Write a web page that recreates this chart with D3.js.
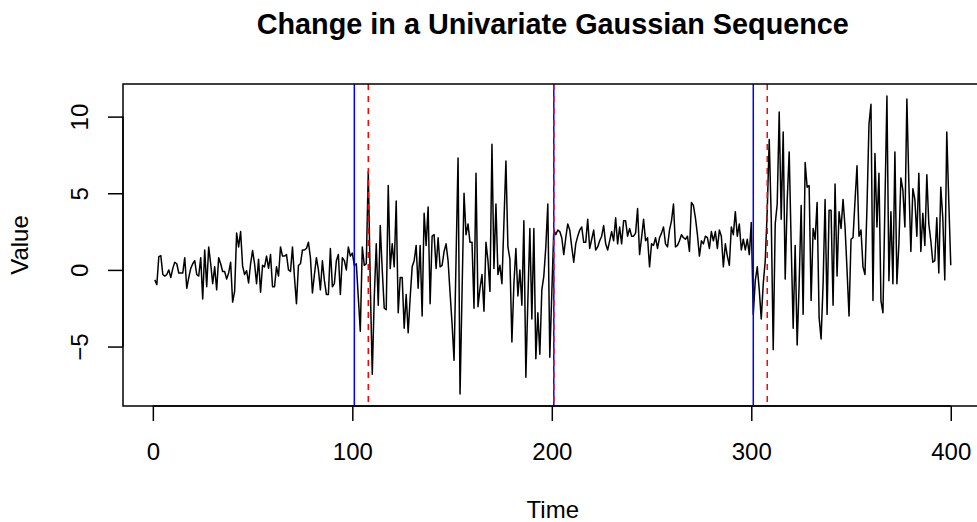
<!DOCTYPE html>
<html>
<head>
<meta charset="utf-8">
<script src="https://cdn.jsdelivr.net/npm/d3@7"></script>
<style>
  html, body { margin: 0; padding: 0; background: #ffffff; }
  svg { display: block; }
  text { font-family: "Liberation Sans", Arial, Helvetica, sans-serif; fill: #000; }
</style>
</head>
<body>
<svg id="chart" width="977" height="522"></svg>
<script>
// ---- data ----
const seriesValues = [
  -0.65,-0.96,0.87,0.93,-0.3,-0.4,-0.3,0.0,-0.5,0.1,
  0.5,0.4,-0.2,-0.2,-0.2,0.8,-1.2,-0.5,0.1,0.4,
  0.6,-0.3,-0.4,0.8,-1.9,1.3,-1.1,1.5,0.4,-0.9,
  0.2,-1.3,0.8,0.4,-0.1,-0.1,-0.6,-0.2,0.5,-2.1,
  -1.4,2.4,1.5,2.5,0.25,-0.3,-0.05,-0.85,0.4,1.26,
  0.4,-0.9,0.7,-1.46,0.3,0.2,0.9,0.1,1.0,-1.1,
  -1.1,0.2,-0.4,1.5,0.9,0.9,1.0,0.0,-0.1,1.5,
  -0.5,-2.2,0.3,0.4,1.3,1.3,1.4,1.8,0.8,-1.5,
  -0.3,0.8,0.0,-1.3,0.6,-0.7,-1.6,-1.6,1.4,-1.1,
  -0.9,0.6,1.0,-1.6,0.8,0.6,0.0,1.5,0.9,1.1,
  0.3,0.4,-1.8,-4.0,1.5,0.3,0.4,6.4,-0.9,-6.8,
  -1.8,1.7,-2.3,2.9,0.0,-2.5,-2.6,5.5,0.1,1.7,
  0.2,4.5,-2.8,-0.5,-0.5,-3.8,-1.6,-4.1,-1.8,0.2,
  0.6,1.6,-1.2,1.6,-3.0,3.7,1.6,4.1,-2.2,2.2,
  2.3,0.1,2.1,0.2,0.3,1.2,1.7,0.6,-1.5,-3.5,
  -5.9,0.7,7.3,-8.1,-1.5,5.0,2.3,3.0,1.8,1.8,
  -2.5,6.3,-2.4,-1.2,-0.3,-2.7,1.8,0.6,-1.4,8.2,
  0.1,4.3,-0.3,0.3,-0.9,3.1,7.1,1.5,0.7,-4.7,
  -0.9,1.4,-1.7,0.0,-2.3,3.2,-7.0,-2.0,2.7,-3.2,
  2.7,-5.8,-2.8,-5.5,-1.3,-0.4,1.5,4.3,-5.7,-1.5,
  2.6,2.3,2.6,2.5,2.1,1.0,2.1,3.0,2.6,1.5,
  0.5,1.7,2.2,2.6,2.8,1.8,1.8,3.3,1.4,2.0,
  2.6,1.3,1.5,1.9,2.2,2.9,1.7,1.3,1.9,2.5,
  1.9,3.4,1.7,2.8,1.7,3.2,3.2,2.2,2.7,2.2,
  2.2,2.4,4.0,1.0,2.1,3.3,1.9,2.1,0.2,1.7,
  1.6,2.1,1.4,2.1,2.4,2.8,1.7,1.5,2.6,3.2,
  4.3,1.5,1.6,1.9,2.3,2.1,2.0,2.2,1.2,4.4,
  4.2,3.4,2.3,0.9,1.9,1.7,2.2,2.1,1.4,2.5,
  1.9,2.5,1.4,2.6,2.2,0.2,1.7,0.9,0.3,2.8,
  2.3,3.8,2.2,3.0,1.3,2.0,1.3,2.0,1.0,3.1,
  -2.9,-0.7,0.2,-1.3,-3.2,-0.9,0.6,3.9,8.5,3.4,
  -5.2,3.0,4.3,10.3,3.3,9.0,-0.6,4.5,7.7,1.7,
  -3.8,1.6,-4.9,-0.9,4.2,-2.9,7.0,5.4,5.5,-2.0,
  2.7,2.0,4.4,-3.1,-4.5,-0.9,4.6,-2.9,3.9,3.9,
  -2.3,5.6,-0.4,3.8,2.7,4.6,2.8,0.0,-3.0,2.0,
  2.1,4.5,6.8,2.2,2.6,0.2,-0.3,4.1,9.5,10.8,
  -2.0,7.6,2.8,6.3,-2.0,-2.8,4.3,11.35,-0.7,3.8,
  -0.9,7.7,-0.9,1.7,6.0,5.2,2.8,11.15,5.6,1.2,
  5.3,4.6,2.2,6.3,1.2,3.7,1.6,6.2,3.0,1.9,
  0.5,0.6,3.4,-0.2,5.4,3.4,-0.65,9.0,4.5,0.3
];
const timeIndex = seriesValues.map((_, i) => i + 1);
const trueChangePoints = [101, 201, 301];
const estimatedChangePoints = [108, 201, 308];
const xTickValues = [0, 100, 200, 300, 400];
const yTickValues = [-5, 0, 5, 10];
const titleText = "Change in a Univariate Gaussian Sequence";
const xLabelText = "Time";
const yLabelText = "Value";

// ---- layout ----
const plotLeft = 123, plotRight = 982.6, plotTop = 84, plotBottom = 406;

// R-style 4% axis extension
function rRange(lo, hi) { const e = (hi - lo) * 0.04; return [lo - e, hi + e]; }
const xDom = rRange(d3.min(timeIndex), d3.max(timeIndex));
const yDom = rRange(d3.min(seriesValues), d3.max(seriesValues));

const x = d3.scaleLinear().domain(xDom).range([plotLeft, plotRight]);
const y = d3.scaleLinear().domain(yDom).range([plotBottom, plotTop]);

const svg = d3.select("#chart");
const lw = 1.5;

svg.append("defs").append("clipPath").attr("id", "plotclip")
  .append("rect").attr("x", plotLeft).attr("y", plotTop)
  .attr("width", plotRight - plotLeft).attr("height", plotBottom - plotTop);

// data line
const line = d3.line().x((d, i) => x(timeIndex[i])).y(d => y(d));
svg.append("path")
  .datum(seriesValues)
  .attr("d", line)
  .attr("fill", "none")
  .attr("stroke", "#000")
  .attr("stroke-width", lw)
  .attr("stroke-linejoin", "round")
  .attr("clip-path", "url(#plotclip)");

// change points
const g = svg.append("g").attr("clip-path", "url(#plotclip)");
g.selectAll("line.truecp").data(trueChangePoints).enter().append("line")
  .attr("x1", d => x(d)).attr("x2", d => x(d))
  .attr("y1", plotTop).attr("y2", plotBottom)
  .attr("stroke", "#0000ff").attr("stroke-width", lw);
g.selectAll("line.estcp").data(estimatedChangePoints).enter().append("line")
  .attr("x1", d => x(d)).attr("x2", d => x(d))
  .attr("y1", plotTop).attr("y2", plotBottom)
  .attr("stroke", "#ff0000").attr("stroke-width", lw)
  .attr("stroke-dasharray", "6,6");

// box
svg.append("rect")
  .attr("x", plotLeft).attr("y", plotTop)
  .attr("width", plotRight - plotLeft).attr("height", plotBottom - plotTop)
  .attr("fill", "none").attr("stroke", "#000").attr("stroke-width", lw);

// x axis
const xAxis = d3.axisBottom(x).tickValues(xTickValues).tickSize(15).tickPadding(0).tickFormat(d3.format("d"));
const gx = svg.append("g").attr("transform", `translate(0,${plotBottom})`).call(xAxis);
gx.select(".domain").attr("d", `M${x(xTickValues[0])},0H${x(xTickValues[xTickValues.length-1])}`)
  .attr("stroke-width", lw);
gx.selectAll(".tick line").attr("stroke-width", lw);
gx.selectAll(".tick text")
  .attr("y", 54).attr("dy", null)
  .style("font-size", "24px")
  .style("font-family", "'Liberation Sans', Arial, sans-serif");

// y axis
const yAxis = d3.axisLeft(y).tickValues(yTickValues).tickSize(15).tickPadding(0)
  .tickFormat(d => d < 0 ? "\u2212" + Math.abs(d) : String(d));
const gy = svg.append("g").attr("transform", `translate(${plotLeft},0)`).call(yAxis);
gy.select(".domain").attr("d", `M0,${y(yTickValues[0])}V${y(yTickValues[yTickValues.length-1])}`)
  .attr("stroke-width", lw);
gy.selectAll(".tick line").attr("stroke-width", lw);
gy.selectAll(".tick text")
  .attr("x", null).attr("dy", null)
  .attr("text-anchor", "middle")
  .attr("transform", "translate(-35.5,0) rotate(-90)")
  .style("font-size", "24px")
  .style("font-family", "'Liberation Sans', Arial, sans-serif");

// titles
const cx = (plotLeft + plotRight) / 2;
svg.append("text").attr("x", cx).attr("y", 34).attr("text-anchor", "middle")
  .style("font-size", "28.8px").style("font-weight", "bold").text(titleText);
svg.append("text").attr("x", cx).attr("y", 518).attr("text-anchor", "middle")
  .style("font-size", "24px").text(xLabelText);
svg.append("text")
  .attr("transform", `translate(28.3,${(plotTop + plotBottom) / 2}) rotate(-90)`)
  .attr("text-anchor", "middle")
  .style("font-size", "24px").text(yLabelText);
</script>
</body>
</html>
